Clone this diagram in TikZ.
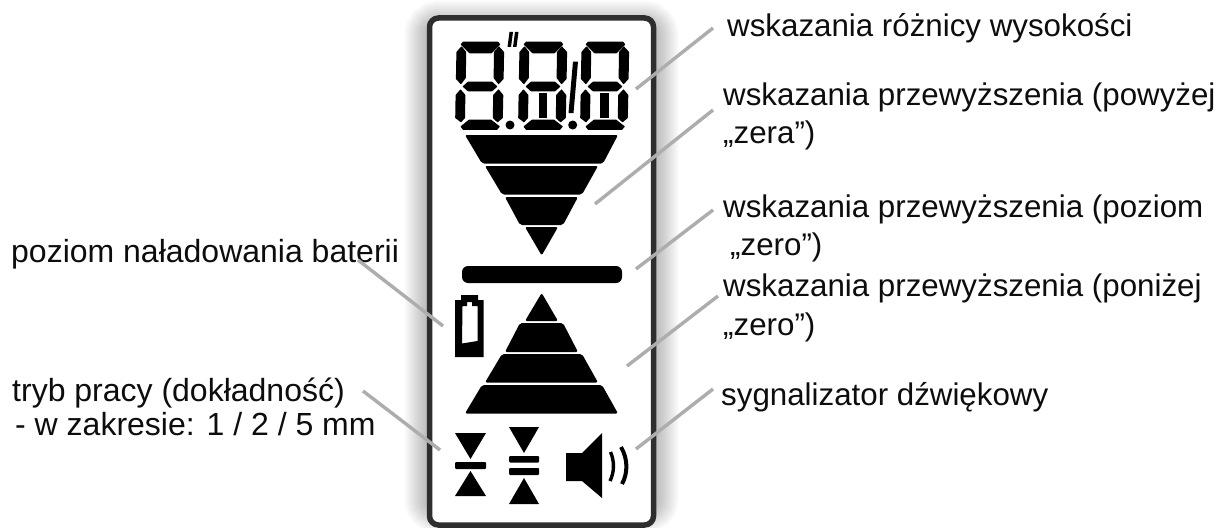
\documentclass[tikz,border=0pt]{standalone}
\usepackage{fontspec}
\setmainfont{Liberation Sans}
\tikzset{
  seg/.style={fill=black,draw=none,rounded corners=0.4pt},
  band/.style={fill=black,draw=none,rounded corners=2pt},
  icon/.style={fill=black,draw=none},
  leader/.style={draw=black!32,line width=3.4pt},
  lab/.style={anchor=base west,inner sep=0pt,font=\fontsize{31.3}{31.3}\selectfont,text=black!95},
  labl/.style={lab,font=\fontsize{32}{32}\selectfont},
  frameline/.style={draw=black!82,line width=5.5pt,rounded corners=9pt},
  halo/.style={draw=black,rounded corners=9pt,opacity=0.022}
}
\newcommand{\lcddigit}[1]{%
\begin{scope}[xshift=#1]
 \fill[seg] (463,41.6)--(498,41.6)--(500.4,44.5)--(491.5,53.4)--(469.5,53.4)--(460.6,44.5)--cycle;
 \fill[seg] (456.4,52)--(461.5,46.2)--(466.2,52)--(465.8,78)--(461,84.4)--(455.9,79)--cycle;
 \fill[seg] (504.1,52)--(498.8,46.2)--(494,52)--(493.6,78)--(498.5,84.4)--(503.6,79)--cycle;
 \fill[seg] (468,81.6)--(492,81.6)--(497.5,86.5)--(492,91.4)--(468,91.4)--(462.5,86.5)--cycle;
 \fill[seg] (455.6,95)--(460.5,89.2)--(465.4,95)--(465,118)--(461,122.4)--(455.2,118)--cycle;
 \fill[seg] (503.3,95)--(498.5,89.2)--(493.2,95)--(492.8,118)--(497.5,122.4)--(502.8,118)--cycle;
 \fill[seg] (469,119.6)--(491,119.6)--(500,126.5)--(497,129.9)--(463,129.9)--(460.5,126.5)--cycle;
\end{scope}}
\begin{document}
\begin{tikzpicture}[x=1pt,y=-1pt]
\useasboundingbox (0,0) rectangle (1230,527);
\fill[white] (0,0) rectangle (1230,527);
% soft shadow round the frame
\foreach \w in {6,10,14,18,22,26,30,34,38,42,46,50}{
  \draw[halo,line width=\w pt] (429.5,26) rectangle (653.5,508);}
\fill[white,rounded corners=9pt] (429.5,18) rectangle (653.5,525);
\draw[frameline] (429.5,18) rectangle (653.5,525);
% digits
\lcddigit{0pt}
\lcddigit{63pt}
\lcddigit{125pt}
\fill[icon] (510,125) circle (4.5);
\fill[icon] (572.7,125) circle (4.5);
\fill[icon] (509.5,32)--(513,32)--(511,47)--(507.5,47)--cycle;
\fill[icon] (515,32)--(518.5,32)--(516.5,47)--(513,47)--cycle;
\fill[icon] (573,61.5)--(578,61.5)--(573.5,113)--(568.5,113)--cycle;
\fill[icon] (538.5,93)--(546.5,93)--(546.5,117.5)--(538.5,117.5)--cycle;
\fill[icon] (600,93)--(608.5,93)--(608.5,117.5)--(600,117.5)--cycle;
% down triangle
\fill[band] (465,135)--(618,135)--(603,163.5)--(482,163.5)--cycle;
\fill[band] (485,166)--(598,166)--(582,194.5)--(502,194.5)--cycle;
\fill[band] (505,197)--(578,197)--(563,225)--(520,225)--cycle;
\fill[band] (525,227)--(558,227)--(541.7,255.5)--cycle;
% zero bar
\fill[black,rounded corners=6pt] (462,266)rectangle(622,283);
% up triangle
\fill[band] (541.7,293)--(558,321)--(525,321)--cycle;
\fill[band] (520,323)--(563,323)--(578,352)--(505,352)--cycle;
\fill[band] (502,354)--(582,354)--(598,382.5)--(485,382.5)--cycle;
\fill[band] (482,385)--(602,385)--(618,413.5)--(465,413.5)--cycle;
% battery
\fill[icon,even odd rule] (461,295)--(478,295)--(478,300)--(483.5,300)--(483.5,357)--(455,357)--(455,300)--(461,300)--cycle
  (462.5,306)--(467,306)--(467,302)--(472,302)--(472,306)--(477.5,306)--(477.5,341)--(462,343.5)--cycle;
% mode icons
\fill[icon] (455,433)--(486,433)--(470.5,459)--cycle;
\fill[icon,rounded corners=1pt] (455,462)rectangle(486,469);
\fill[icon] (470.5,471)--(486,496)--(455,496)--cycle;
\fill[icon] (509,427)--(539,427)--(524,453)--cycle;
\fill[icon,rounded corners=1pt] (509,456)rectangle(539,462.5);
\fill[icon,rounded corners=1pt] (509,468)rectangle(539,475);
\fill[icon] (524,478)--(539,504)--(509,504)--cycle;
% speaker
\fill[icon] (566,453)--(582,453)--(602,433)--(602,498)--(582,481)--(566,481)--cycle;
\draw[black,line width=3.4pt] (610.5,452) .. controls (614.5,461) and (614.5,472) .. (610,481);
\draw[black,line width=4pt] (621,447) .. controls (628,459) and (628,473) .. (622,484);
% labels
\node[lab] (a) at (727,37) {wskazania różnicy wysokości};
\node[lab] (b) at (723,105) {wskazania przewyższenia (powyżej};
\node[lab] (b2) at (723,143) {„zera”)};
\node[lab] (c) at (723,217) {wskazania przewyższenia (poziom};
\node[lab] (c2) at (730,255) {„zero”)};
\node[lab] (d) at (723,296) {wskazania przewyższenia (poniżej};
\node[lab] (d2) at (723,335) {„zero”)};
\node[lab] (e) at (721,405) {sygnalizator dźwiękowy};
\node[labl] (f) at (11,262) {poziom naładowania baterii};
\node[labl] (g) at (12,401) {tryb pracy (dokładność)};
\node[labl] (g2) at (15,435) {- w zakresie: 1 / 2 / 5 mm};
% leaders
\coordinate (a0) at (713,28); \coordinate (a1) at (636,89);
\coordinate (b0) at (713,110); \coordinate (b1) at (595,204);
\coordinate (c0) at (713,210); \coordinate (c1) at (636,269);
\coordinate (d0) at (718,296); \coordinate (d1) at (627,366);
\coordinate (e0) at (713,389); \coordinate (e1) at (636,449);
\coordinate (f0) at (358,260); \coordinate (f1) at (443,326);
\coordinate (g0) at (363,391); \coordinate (g1) at (440,450);
\draw[leader] (a0)--(a1);
\draw[leader] (b0)--(b1);
\draw[leader] (c0)--(c1);
\draw[leader] (d0)--(d1);
\draw[leader] (e0)--(e1);
\draw[leader] (f0)--(f1);
\draw[leader] (g0)--(g1);
\end{tikzpicture}
\end{document}
